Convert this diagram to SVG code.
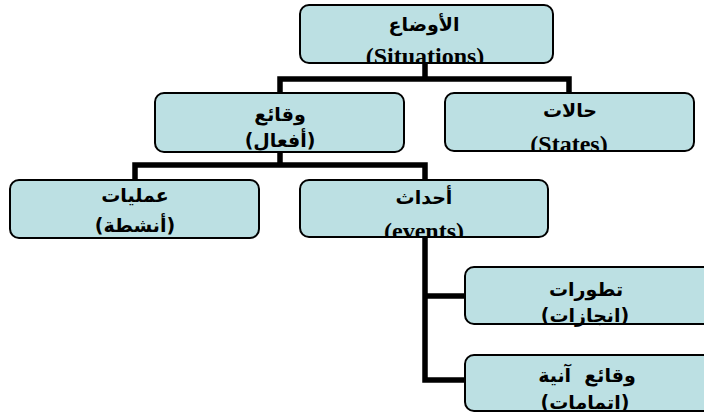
<svg xmlns="http://www.w3.org/2000/svg" width="704" height="415" viewBox="0 0 704 415">
<style>
.box{fill:#bce0e3;stroke:#000;stroke-width:2}
.ar{font-family:"DejaVu Sans","Liberation Sans",sans-serif;font-weight:bold;font-size:19px;fill:#000;text-anchor:middle;direction:rtl;unicode-bidi:embed;white-space:pre}
.en{font-family:"Liberation Serif",serif;font-weight:bold;font-size:24px;fill:#000;text-anchor:middle}
.con{fill:none;stroke:#000;stroke-width:5.5;stroke-linejoin:miter;stroke-linecap:square}
</style>
<defs>
<clipPath id="c1"><rect x="301" y="6" width="251" height="56" rx="8"/></clipPath>
<clipPath id="c3"><rect x="446" y="94" width="247" height="56" rx="8"/></clipPath>
<clipPath id="c5"><rect x="301" y="181" width="246" height="55" rx="8"/></clipPath>
</defs>
<rect width="704" height="415" fill="#fff"/>
<g id="connectors">
<path class="con" d="M425 63V79M280 93V79H569V93"/>
<path class="con" d="M280 152V165M135 180V165H425V180"/>
<path class="con" d="M425 237V380H465M425 296H465"/>
</g>
<g id="n-situations">
<rect class="box" x="300" y="5" width="253" height="58" rx="9"/>
<text class="ar" x="424" y="31">الأوضاع</text>
<text class="en" x="425" y="64" clip-path="url(#c1)">(Situations)</text>
</g>
<g id="n-acts">
<rect class="box" x="155" y="93" width="249" height="59" rx="9"/>
<text class="ar" x="280" y="121">وقائع</text>
<text class="ar" x="280" y="147">(أفعال)</text>
</g>
<g id="n-states">
<rect class="box" x="445" y="93" width="249" height="58" rx="9"/>
<text class="ar" x="570" y="117">حالات</text>
<text class="en" x="569" y="152" clip-path="url(#c3)">(States)</text>
</g>
<g id="n-activities">
<rect class="box" x="10" y="180" width="249" height="58" rx="9"/>
<text class="ar" x="135" y="202">عمليات</text>
<text class="ar" x="135" y="232">(أنشطة)</text>
</g>
<g id="n-events">
<rect class="box" x="300" y="180" width="248" height="57" rx="9"/>
<text class="ar" x="424" y="204">أحداث</text>
<text class="en" x="424" y="239" clip-path="url(#c5)">(events)</text>
</g>
<g id="n-developments">
<rect class="box" x="465" y="267" width="250" height="57" rx="9"/>
<text class="ar" x="586" y="296">تطورات</text>
<text class="ar" x="585" y="322">(انجازات)</text>
</g>
<g id="n-instant">
<rect class="box" x="465" y="355" width="250" height="56" rx="9"/>
<text class="ar" x="587" y="382">وقائع  آنية</text>
<text class="ar" x="585" y="409">(اتمامات)</text>
</g>
</svg>
